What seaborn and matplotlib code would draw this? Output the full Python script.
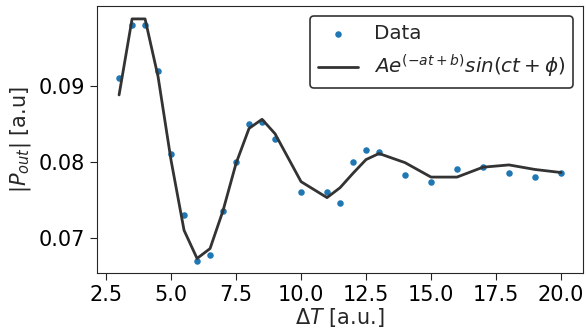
import numpy as np
import pandas as pd
import seaborn as sns
import matplotlib
matplotlib.use("Agg")
import matplotlib.pyplot as plt

t_vals = [3.0, 3.5, 4.0, 4.5, 5.0, 5.5, 6.0, 6.5, 7.0, 7.5, 8.0, 8.5, 9.0,
          10.0, 11.0, 11.5, 12.0, 12.5, 13.0, 14.0, 15.0, 16.0, 17.0, 18.0, 19.0, 20.0]
p_data = [0.0910, 0.0980, 0.0980, 0.0920, 0.0810, 0.0730, 0.0670, 0.0678, 0.0736,
          0.0800, 0.0850, 0.0852, 0.0830, 0.0760, 0.0760, 0.0746, 0.0800, 0.0815,
          0.0813, 0.0783, 0.0774, 0.0790, 0.0793, 0.0786, 0.0780, 0.0786]
p_fit = [0.0888, 0.0988, 0.0988, 0.0912, 0.0802, 0.0710, 0.0673, 0.0686, 0.0736,
         0.0798, 0.0844, 0.0856, 0.0837, 0.0774, 0.0753, 0.0766, 0.0785, 0.0803,
         0.0811, 0.0799, 0.0780, 0.0780, 0.0793, 0.0796, 0.0790, 0.0786]

df = pd.DataFrame({"t": t_vals, "data": p_data, "fit": p_fit})

sns.set_style("ticks")
plt.rcParams['font.family'] = ['DejaVu Sans']
plt.rcParams['mathtext.fontset'] = 'dejavusans'

fig, ax = plt.subplots(figsize=(5.86, 3.32), dpi=100)
fig.subplots_adjust(left=0.1655, right=0.995, top=0.982, bottom=0.178)

sns.scatterplot(data=df, x="t", y="data", ax=ax, color="#1f77b4", s=22,
                linewidth=0, label="Data", zorder=2)
sns.lineplot(data=df, x="t", y="fit", ax=ax, color="#333333", linewidth=2,
             label=r"$Ae^{(-at+b)}sin(ct+\phi)$", zorder=3)

ax.set_xlim(2.15, 20.85)
ax.set_ylim(0.0654, 0.1005)
ax.set_xticks([2.5, 5.0, 7.5, 10.0, 12.5, 15.0, 17.5, 20.0])
ax.set_yticks([0.07, 0.08, 0.09])
ax.tick_params(labelsize=15, colors="#222222", labelcolor="black", length=5)
for s in ax.spines.values():
    s.set_color("#262626")
ax.set_xlabel(r"$\Delta T$ [a.u.]", fontsize=15, labelpad=1)
ax.set_ylabel(r"$|P_{out}|$ [a.u]", fontsize=15, labelpad=4)

leg = ax.legend(loc="upper right", fontsize=14.3, frameon=True, fancybox=True,
                edgecolor="#333333", framealpha=1, borderaxespad=0.5)
leg.get_frame().set_linewidth(1.2)

fig.savefig("out.png", dpi=100)
